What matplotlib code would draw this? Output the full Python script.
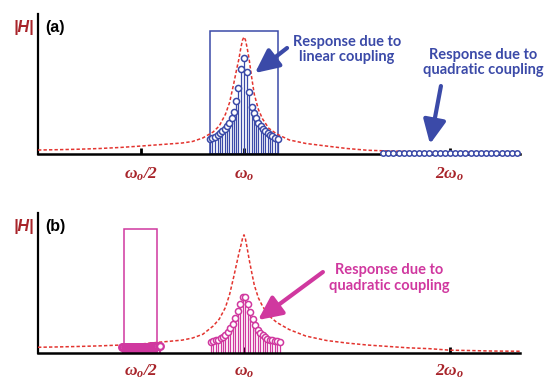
import matplotlib
matplotlib.use('Agg')
import matplotlib.pyplot as plt
from matplotlib.patches import Rectangle

plt.rcParams['mathtext.fontset'] = 'custom'
plt.rcParams['mathtext.it'] = 'Liberation Serif:style=italic:weight=bold'
plt.rcParams['mathtext.rm'] = 'Liberation Serif:style=italic:weight=bold'
plt.rcParams['mathtext.bf'] = 'Liberation Serif:style=italic:weight=bold'

# Frequenzachse in Einheiten von omega_0, Amplitude relativ zum Resonanzmaximum (=100)
w_red = [0.0, 0.1, 0.2, 0.3, 0.4, 0.5, 0.6, 0.7, 0.75, 0.8, 0.85, 0.88, 0.91, 0.93,
         0.95, 0.965, 0.975, 0.985, 0.993, 1.0, 1.007, 1.015, 1.025, 1.035, 1.05,
         1.07, 1.09, 1.12, 1.16, 1.22, 1.3, 1.4, 1.5, 1.6, 1.7, 1.8, 1.9, 2.0, 2.1,
         2.2, 2.34]
red_a = [3.4, 3.7, 4.1, 4.7, 5.6, 6.8, 8.1, 9.4, 10.7, 13.7, 18.8, 24, 34, 44,
         60, 73, 81, 91, 97.5, 100, 97.5, 91, 81, 68, 51,
         38, 30, 22, 17, 12, 9, 6.8, 4.7, 3.2, 2.6, 2.1, 1.9, 1.7, 1.5,
         1.4, 1.3]
red_b = [4.9, 5.2, 5.6, 6.1, 6.8, 7.7, 9.4, 11, 12.8, 16, 23, 29, 39, 50,
         65, 77, 85, 92, 98, 101, 97.5, 90, 80, 71, 58,
         47, 40, 32, 26, 20, 14.5, 10.7, 8.5, 6.8, 5.6, 4.4, 3.7, 2.4, 2.1,
         1.7, 1.5]

# (a) lineare Kopplung um omega_0
lin_w_a = [0.833, 0.846, 0.859, 0.872, 0.883, 0.895, 0.906, 0.917, 0.929, 0.940,
           0.951, 0.961, 0.971, 0.985, 1.0, 1.015, 1.026, 1.037, 1.049, 1.058,
           1.069, 1.081, 1.092, 1.103, 1.115, 1.126, 1.137, 1.150, 1.164]
lin_h_a = [12.5, 13.7, 14.8, 16.2, 17.7, 19.4, 21.6, 24, 26.5, 30.5,
           36, 45, 56, 73, 82, 70, 53, 40, 35, 30.5,
           26.7, 24, 21.6, 19.7, 18, 16.5, 15.4, 14, 12.8]

# (a) quadratische Kopplung um 2*omega_0
quad_w_a = [1.675, 1.70, 1.725, 1.75, 1.775, 1.80, 1.825, 1.85, 1.875, 1.90, 1.925,
            1.95, 1.975, 2.00, 2.025, 2.05, 2.075, 2.10, 2.125, 2.15, 2.175, 2.20,
            2.225, 2.25, 2.275, 2.30, 2.325]
quad_h_a = [1.2, 1.2, 1.2, 1.2, 1.2, 1.2, 1.2, 1.2, 1.2, 1.2, 1.2,
            1.2, 1.2, 1.2, 1.2, 1.2, 1.2, 1.2, 1.2, 1.2, 1.2, 1.2,
            1.2, 1.2, 1.2, 1.2, 1.2]

# (b) quadratische Kopplung: Antwort um omega_0
lin_w_b = [0.838, 0.850, 0.862, 0.874, 0.886, 0.898, 0.910, 0.922, 0.934, 0.946,
           0.958, 0.969, 0.981, 0.993, 1.007, 1.019, 1.031, 1.042, 1.054, 1.066,
           1.078, 1.090, 1.102, 1.114, 1.126, 1.138, 1.150, 1.162, 1.174]
lin_h_b = [9.7, 10.2, 10.8, 11.5, 12.5, 13.8, 15.5, 18, 21, 25,
           30, 36, 42, 48, 48, 42, 35, 29, 24, 20,
           17, 15, 13.5, 12.3, 11.5, 10.8, 10.3, 9.9, 9.6]

# (b) Anregung um omega_0/2
quad_w_b = [0.410, 0.415, 0.420, 0.425, 0.430, 0.435, 0.440, 0.445, 0.450, 0.455,
            0.460, 0.465, 0.470, 0.475, 0.480, 0.485, 0.490, 0.495, 0.500, 0.505,
            0.510, 0.515, 0.520, 0.525, 0.530, 0.535, 0.540, 0.545, 0.550, 0.555,
            0.560, 0.565, 0.570, 0.575, 0.580, 0.585, 0.590]
quad_h_b = [5.0, 5.0, 5.0, 5.0, 5.1, 5.1, 5.1, 5.1, 5.2, 5.2,
            5.2, 5.2, 5.2, 5.3, 5.3, 5.3, 5.3, 5.3, 5.3, 5.4,
            5.4, 5.4, 5.4, 5.4, 5.5, 5.5, 5.5, 5.5, 5.6, 5.6,
            5.6, 5.6, 5.7, 5.7, 5.7, 5.8, 5.8]

tick_pos = [0.5, 1.0, 2.0]
tick_labels = [r'$\omega_o/2$', r'$\omega_o$', r'$2\omega_o$']

blue = '#3b4aa8'
magenta = '#d0389f'
red = '#e3342f'
darkred = '#a8242a'

W, H = 546, 380
fig = plt.figure(figsize=(W / 100, H / 100), dpi=100)
ax_a = fig.add_axes([38 / W, (H - 154) / H, 494.4 / W, 146.25 / H])
ax_b = fig.add_axes([38 / W, (H - 353) / H, 494.4 / W, 146.25 / H])


def grundgeruest(ax, red_vals, tag, label_y):
    ax.set_xlim(0, 2.4)
    ax.set_ylim(0, 125)
    for s in ['top', 'right']:
        ax.spines[s].set_visible(False)
    ax.spines['left'].set_bounds(0, 120)
    ax.spines['bottom'].set_bounds(0, 2.34)
    ax.spines['left'].set_linewidth(1.6)
    ax.spines['bottom'].set_linewidth(1.8)
    ax.set_yticks([])
    ax.set_xticks(tick_pos)
    ax.set_xticklabels([])
    ax.tick_params(axis='x', direction='in', length=4, width=2, color='black')
    ax.plot(w_red, red_vals, color=red, ls=(0, (2.2, 1.4)), lw=1.1, zorder=3)
    for p, lab in zip(tick_pos, tick_labels):
        ax.text(p, label_y, lab, color=darkred, fontsize=12.5, ha='center', va='center',
                clip_on=False)
    ax.text(-0.068, 108, '|H|', color=darkred, fontsize=11.5, fontweight='bold',
            fontstyle='italic', family='Liberation Sans', ha='center', va='center')
    ax.text(0.035, 108, tag, color='black', fontsize=11.5, fontweight='bold',
            family='Liberation Sans', ha='left', va='center')


def stems(ax, xs, ys, col, ms, lw=0.9, mew=1.1):
    ax.vlines(xs, 0, ys, color=col, lw=lw, zorder=2)
    ax.plot(xs, ys, 'o', mfc='white', mec=col, ms=ms, mew=mew, zorder=4, clip_on=False)


pfeil = '-|>,head_length=0.8,head_width=0.38'

grundgeruest(ax_a, red_a, '(a)', -17.5)
stems(ax_a, lin_w_a, lin_h_a, blue, 4.4)
stems(ax_a, quad_w_a, quad_h_a, blue, 3.9)
ax_a.add_patch(Rectangle((0.833, 0), 0.334, 105, fill=False, ec=blue, lw=1.1, zorder=2))
ax_a.text(1.5, 89.3, 'Response due to\nlinear coupling', color=blue, fontsize=10.5,
          fontweight='bold', family='Lato', ha='center', va='center', linespacing=1.1)
ax_a.annotate('', xy=(1.053, 69.2), xytext=(1.209, 90.6),
              arrowprops=dict(arrowstyle=pfeil, lw=3, color=blue, mutation_scale=18,
                              shrinkA=0, shrinkB=0))
ax_a.text(2.16, 78.2, 'Response due to\nquadratic coupling', color=blue, fontsize=10.5,
          fontweight='bold', family='Lato', ha='center', va='center', linespacing=1.1)
ax_a.annotate('', xy=(1.903, 8.5), xytext=(1.956, 58.1),
              arrowprops=dict(arrowstyle=pfeil, lw=3, color=blue, mutation_scale=18,
                              shrinkA=0, shrinkB=0))

grundgeruest(ax_b, red_b, '(b)', -15)
stems(ax_b, lin_w_b, lin_h_b, magenta, 4.4)
stems(ax_b, quad_w_b, quad_h_b, magenta, 4.8, mew=1.6)
ax_b.add_patch(Rectangle((0.417, 0), 0.161, 106, fill=False, ec=magenta, lw=1.1, zorder=2))
ax_b.text(1.704, 64.1, 'Response due to\nquadratic coupling', color=magenta, fontsize=10.5,
          fontweight='bold', family='Lato', ha='center', va='center', linespacing=1.1)
ax_b.annotate('', xy=(1.068, 28.2), xytext=(1.383, 69.2),
              arrowprops=dict(arrowstyle=pfeil, lw=3, color=magenta, mutation_scale=18,
                              shrinkA=0, shrinkB=0))

fig.savefig('out.png', dpi=100)
